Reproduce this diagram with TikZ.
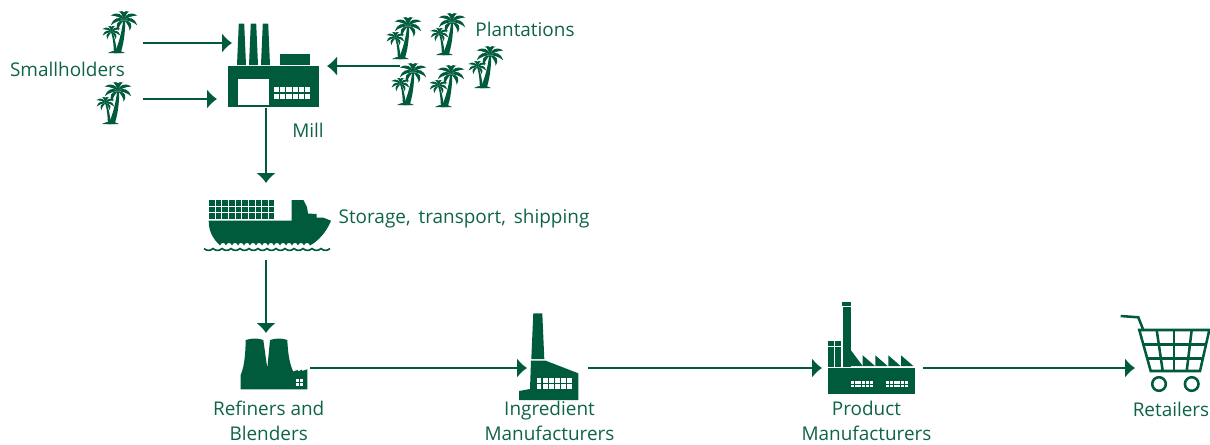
\documentclass[tikz,border=0pt]{standalone}
\usepackage{fontspec}
\setmainfont{Open Sans}
\usetikzlibrary{arrows.meta}
\definecolor{palmgreen}{HTML}{005A3C}
\definecolor{lblgreen}{HTML}{0F6448}
\tikzstyle{lbl} = [text=lblgreen, font=\fontsize{14.2}{18.5}\selectfont, align=center, inner sep=0pt]
\tikzstyle{icon} = [rectangle, inner sep=0pt, outer sep=0pt]
\newcommand{\crown}[1]{%
  \foreach \a/\l in {65/.7,25/1,-15/1,-55/.85}
    \fill[palmgreen,rotate=\a,scale=#1] (0,0) .. controls (.3,-.38) and (.7,-.34) .. (\l,.12) .. controls (.7,-.04) and (.3,-.04) .. (0,0);
  \foreach \a/\l in {65/.7,25/1,-15/1,-55/.85}
    \fill[palmgreen,xscale=-1,rotate=\a,scale=#1] (0,0) .. controls (.3,-.38) and (.7,-.34) .. (\l,.12) .. controls (.7,-.04) and (.3,-.04) .. (0,0);
}
% cells: x y of first cell, columns, rows, cell w, cell h, pitch, colour
\newcommand{\cells}[8]{%
  \foreach \i in {1,...,#3} \foreach \j in {1,...,#4}
    \fill[#8] ({#1+(\i-1)*#7},{#2+(\j-1)*#7}) rectangle ++(#5,#6);
}
\tikzset{
  palm/.pic={
    \fill[palmgreen] (-2.5,0) .. controls (2,-10) and (5,-22) .. (6,-32) -- (8.2,-32) .. controls (8.2,-20) and (6.5,-8) .. (3.5,0) -- cycle;
    \fill[palmgreen] (-3.2,0) .. controls (-3.2,-8) and (-4,-15) .. (-6,-21) -- (-4.6,-21) .. controls (-2,-15) and (-1,-8) .. (0,0) -- cycle;
    \fill[palmgreen] (-9,0) .. controls (-5,-3) and (4,-3) .. (8,0) -- cycle;
    \begin{scope}[shift={(7,-33)}] \crown{14} \end{scope}
    \begin{scope}[shift={(-5.5,-21)}] \crown{9.5} \end{scope}
  }
}
\begin{document}
\begin{tikzpicture}[x=.75pt,y=-.75pt,line width=1.6pt,draw=palmgreen,
    ->,>={Latex[length=7.5pt,width=15pt]},node distance=30pt]
  \useasboundingbox (0,0) rectangle (1210,444);

  % palms
  \foreach \px/\py in {117/53,111/124,401/59,445/55,483/88,406/105,444/107}
    \pic[-] at (\px,\py) {palm};

  % mill
  \begin{scope}[-]
  \fill[palmgreen] (228.3,66) rectangle (319,107.3);
  \foreach \cx in {241.5,253.5,265.5}
    \fill[palmgreen] (\cx-4.5,65) -- (\cx-2.7,23.5) -- (\cx+2.7,23.5) -- (\cx+4.5,65) -- cycle;
  \fill[palmgreen] (280,54) rectangle (310.3,65);
  \fill[white] (237.7,79) rectangle (268.7,104.7);
  \cells{274}{87.3}{6}{2}{5.2}{5}{6.2}{white}

  % ship
  \cells{209}{200}{10}{3}{5.6}{5.6}{6.65}{palmgreen}
  \fill[palmgreen] (208.7,220.7) -- (291.7,220.7) -- (291.7,200) -- (303.5,200) -- (307,207) -- (308,213.5) -- (316.5,214) -- (316.5,217.5) -- (323,217.5) -- (331,220.7)
     .. controls (326,233) and (318,241) .. (310,245.5) \foreach \w in {1,...,15} { .. controls +(-1,-3.5) and +(1,-3.5) .. ++(-6,0)}
     .. controls (212,238) and (208.7,230) .. (208.7,220.7) -- cycle;
  \draw[palmgreen,line width=1.2pt] (204,248.5) \foreach \w in {1,...,14} { .. controls +(2.5,2.5) and +(-2.5,2.5) .. ++(9,0)};

  % refiners
  \fill[palmgreen] (240.7,389.3) -- (240.7,375) .. controls (245,365) and (245.5,350) .. (245.7,340)
     .. controls (252,338) and (258,338) .. (263.3,340) -- (267.3,368.3) -- (270,340)
     .. controls (276,338) and (282,338) .. (287.3,340) .. controls (288,355) and (290,365) .. (293.3,371.7)
     -- (294,371) -- (298,370) -- (298,371.5) -- (302,369.5) -- (302,371) -- (307.3,369.3) -- (307.3,389.3) -- cycle;
  \cells{296}{378.7}{2}{2}{3.2}{3.2}{4}{white}

  % ingredient
  \fill[palmgreen] (533.3,313.3) -- (542.3,313.3) -- (544.3,359) -- (531.3,359) -- cycle;
  \fill[palmgreen] (531,360.7) -- (545.7,360.7) -- (578.3,373.3) -- (578.3,400) -- (519,400) -- (519,391) -- (530,389) -- cycle;
  \cells{536.7}{378.3}{6}{2}{4.7}{4.7}{6.1}{white}

  % product
  \fill[palmgreen] (828,367.7) rectangle (915,393.7);
  \fill[palmgreen] (841.7,301.7) rectangle (851,305.7);
  \fill[palmgreen] (842.7,307.3) rectangle (850.7,367);
  \fill[palmgreen] (828,340.7) rectangle (833.7,345.7);
  \fill[palmgreen] (835,340.7) rectangle (841,345.7);
  \fill[palmgreen] (828,347.3) rectangle (833.7,367);
  \fill[palmgreen] (835.3,347.3) rectangle (841,367);
  \fill[palmgreen] (850.7,350) -- (862.7,366) -- (850.7,366) -- cycle;
  \foreach \sx in {862.7,875.3,888.3,901}
    \fill[palmgreen] (\sx,355.3) -- (\sx+12.3,366) -- (\sx,366) -- cycle;
  \cells{851}{381}{6}{2}{3}{2.5}{3.7}{white}
  \cells{886.3}{381}{6}{2}{3}{2.5}{3.7}{white}

  % cart
  \begin{scope}[palmgreen,line width=1.9pt]
  \draw (1120.7,316) -- (1138.3,317.3) -- (1143.3,330);
  \draw (1139.3,330) -- (1209.3,330) -- (1200,371) -- (1150.7,371) -- cycle;
  \draw (1143,344.3) -- (1206,344.3);
  \draw (1147,358.3) -- (1203,358.3);
  \draw (1156.7,330) -- (1162.7,371);
  \draw (1174,330) -- (1174,371);
  \draw (1191.7,330) -- (1186.7,371);
  \draw (1159,384) circle[radius=6.8];
  \draw (1191.7,384) circle[radius=6.8];
  \end{scope}
  \end{scope}

  % nodes that the connectors run between
  \node[icon,minimum width=37.5pt,minimum height=15pt] (palmA) at (118,43) {};
  \node[icon,minimum width=37.5pt,minimum height=15pt] (palmB) at (118,99) {};
  \node[icon,minimum width=67.5pt,minimum height=15pt] (estate) at (445,66) {};
  \node[icon,minimum width=60pt,minimum height=31.5pt] (mill) at (266,87) {};
  \node[icon,minimum width=60pt,minimum height=57.75pt] (ship) at (266,221.5) {};
  \node[icon,minimum width=66pt,minimum height=52.5pt] (refiners) at (266,368) {};
  \node[icon,minimum width=45.75pt,minimum height=52.5pt] (ingredient) at (557.5,368) {};
  \node[icon,minimum width=75.75pt,minimum height=52.5pt] (product) at (872.5,368) {};
  \node[icon,minimum width=52.5pt,minimum height=52.5pt] (retailers) at (1170,368) {};
  \coordinate (millA) at (232,43);
  \coordinate (millB) at (217,99);
  \coordinate (millC) at (327,66);

  \path (palmA) edge (millA)
  (palmB) edge (millB)
  (estate) edge (millC)
  (mill) edge (ship)
  (ship) edge (refiners)
  (refiners) edge (ingredient)
  (ingredient) edge (product)
  (product) edge (retailers);

  % labels
  \node[lbl] (smallholders) at (67.5,69) {Smallholders};
  \node[lbl] (plantations) at (525,29) {Plantations};
  \node[lbl] (milllbl) at (308,130) {Mill};
  \node[lbl] (shiplbl) at (464,219) {\spaceskip=6pt\relax Storage, transport, shipping};
  \node[lbl] (refinerslbl) [below of=refiners,node distance=39.75pt,xshift=2pt] {Refiners and\\Blenders};
  \node[lbl] (ingredientlbl) [below of=ingredient,node distance=39.75pt,xshift=-6pt] {Ingredient\\Manufacturers};
  \node[lbl] (productlbl) [below of=product,node distance=39.75pt,xshift=-4.5pt] {Product\\Manufacturers};
  \node[lbl] (retailerslbl) [below of=retailers,node distance=30.75pt,xshift=.75pt] {Retailers};
\end{tikzpicture}
\end{document}
